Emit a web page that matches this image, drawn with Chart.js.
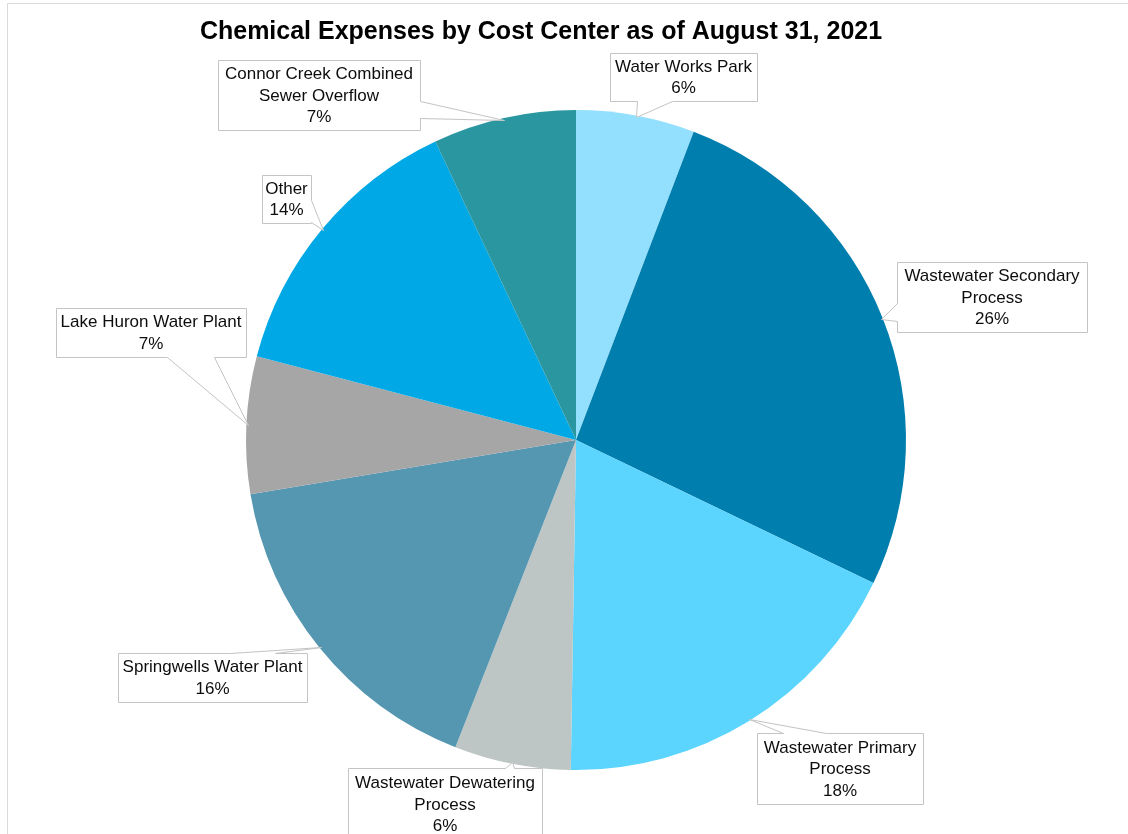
<!DOCTYPE html>
<html>
<head>
<meta charset="utf-8">
<script src="https://cdn.jsdelivr.net/npm/chart.js@4.4.1/dist/chart.umd.min.js"></script>
<style>
  html, body { margin: 0; padding: 0; background: #fff; }
  #wrap { width: 1128px; height: 834px; position: relative; }
</style>
</head>
<body>
<div id="wrap"><canvas id="c" width="1128" height="834"></canvas></div>
<script>
// ---- data ----
const titleText = 'Chemical Expenses by Cost Center as of August 31, 2021';
const categories = [
  'Water Works Park',
  'Wastewater Secondary Process',
  'Wastewater Primary Process',
  'Wastewater Dewatering Process',
  'Springwells Water Plant',
  'Lake Huron Water Plant',
  'Other',
  'Connor Creek Combined Sewer Overflow'
];
const shares = [5.8, 26.3, 18.1, 5.7, 16.4, 6.7, 13.9, 7.0];
const sliceColors = ['#93E0FE', '#007EAE', '#5BD4FE', '#BDC6C5', '#5596B0', '#A6A6A6', '#00A9E6', '#2A97A0'];

// ---- label layout (callout boxes and pointer bases, pixels) ----
const calloutLayout = [
  { box: [610, 53, 147, 48],  base: [[637, 101], [672, 101]], edge: 'bottom' },
  { box: [897, 262, 190, 70], base: [[897, 303], [897, 321]], edge: 'left' },
  { box: [757, 733, 166, 71], base: [[783, 733], [826, 733]], edge: 'top' },
  { box: [348, 768, 194, 72], base: [[505, 768], [514, 768]], edge: 'top' },
  { box: [118, 653, 189, 49], base: [[230, 653], [275, 653]], edge: 'top' },
  { box: [56, 308, 190, 49],  base: [[167, 357], [214, 357]], edge: 'bottom' },
  { box: [262, 175, 49, 48],  base: [[311, 200], [311, 222]], edge: 'right' },
  { box: [218, 60, 202, 70],  base: [[420, 101], [420, 118]], edge: 'right' }
];

const FONT = '"Liberation Sans", Arial, Helvetica, sans-serif';

function wrapWords(ctx, text, maxW) {
  const words = text.split(' ');
  const lines = [];
  let cur = '';
  for (const w of words) {
    const t = cur ? cur + ' ' + w : w;
    if (cur && ctx.measureText(t).width > maxW) { lines.push(cur); cur = w; }
    else cur = t;
  }
  if (cur) lines.push(cur);
  return lines;
}

const framePlugin = {
  id: 'frame',
  beforeDraw(chart) {
    const ctx = chart.ctx;
    ctx.save();
    ctx.fillStyle = '#ffffff';
    ctx.fillRect(0, 0, chart.width, chart.height);
    ctx.strokeStyle = '#D9D9D9';
    ctx.lineWidth = 1;
    ctx.beginPath();
    ctx.moveTo(7.5, chart.height);
    ctx.lineTo(7.5, 3.5);
    ctx.lineTo(chart.width, 3.5);
    ctx.stroke();
    // title
    ctx.fillStyle = '#000000';
    ctx.font = 'bold 25px ' + FONT;
    ctx.textAlign = 'center';
    ctx.textBaseline = 'middle';
    ctx.fillText(titleText, 541, 32);
    ctx.restore();
  }
};

const calloutPlugin = {
  id: 'callouts',
  afterDatasetsDraw(chart) {
    const ctx = chart.ctx;
    const meta = chart.getDatasetMeta(0);
    const total = shares.reduce((a, b) => a + b, 0);
    ctx.save();
    ctx.font = '17px ' + FONT;
    meta.data.forEach((arc, i) => {
      const L = calloutLayout[i];
      if (!L) return;
      const p = arc.getProps(['x', 'y', 'startAngle', 'endAngle', 'outerRadius'], true);
      const mid = (p.startAngle + p.endAngle) / 2;
      const ax = p.x + Math.cos(mid) * p.outerRadius * 0.995;
      const ay = p.y + Math.sin(mid) * p.outerRadius * 0.995;
      const [bx, by, bw, bh] = L.box;
      const b = L.base.slice();
      const pts = [];
      const TL = [bx, by], TR = [bx + bw, by], BR = [bx + bw, by + bh], BL = [bx, by + bh];
      const notch = (arr) => [arr[0], [ax, ay], arr[1]];
      pts.push(TL);
      if (L.edge === 'top') pts.push(...notch(b.sort((u, v) => u[0] - v[0])));
      pts.push(TR);
      if (L.edge === 'right') pts.push(...notch(b.sort((u, v) => u[1] - v[1])));
      pts.push(BR);
      if (L.edge === 'bottom') pts.push(...notch(b.sort((u, v) => v[0] - u[0])));
      pts.push(BL);
      if (L.edge === 'left') pts.push(...notch(b.sort((u, v) => v[1] - u[1])));
      ctx.beginPath();
      pts.forEach((q, k) => {
        const x = Math.round(q[0]) + 0.5, y = Math.round(q[1]) + 0.5;
        if (k === 0) ctx.moveTo(x, y); else ctx.lineTo(x, y);
      });
      ctx.closePath();
      ctx.fillStyle = '#ffffff';
      ctx.fill();
      ctx.strokeStyle = '#C4C4C4';
      ctx.lineWidth = 1;
      ctx.stroke();
      // text
      const pct = Math.round(shares[i] / total * 100) + '%';
      const lines = wrapWords(ctx, categories[i], bw - 2);
      lines.push(pct);
      const lh = 21.5;
      const cy = by + bh / 2;
      const cx = bx + bw / 2;
      ctx.fillStyle = '#0D0D0D';
      ctx.textAlign = 'center';
      ctx.textBaseline = 'middle';
      lines.forEach((ln, k) => {
        ctx.fillText(ln, cx, cy + (k - (lines.length - 1) / 2) * lh + 1);
      });
    });
    ctx.restore();
  }
};

new Chart(document.getElementById('c'), {
  type: 'pie',
  data: {
    labels: categories,
    datasets: [{
      data: shares,
      backgroundColor: sliceColors,
      borderWidth: 0
    }]
  },
  options: {
    responsive: false,
    animation: false,
    devicePixelRatio: 1,
    layout: { padding: { left: 246, right: 222, top: 110, bottom: 64 } },
    plugins: {
      legend: { display: false },
      title: { display: false },
      tooltip: { enabled: false }
    }
  },
  plugins: [framePlugin, calloutPlugin]
});
</script>
</body>
</html>
